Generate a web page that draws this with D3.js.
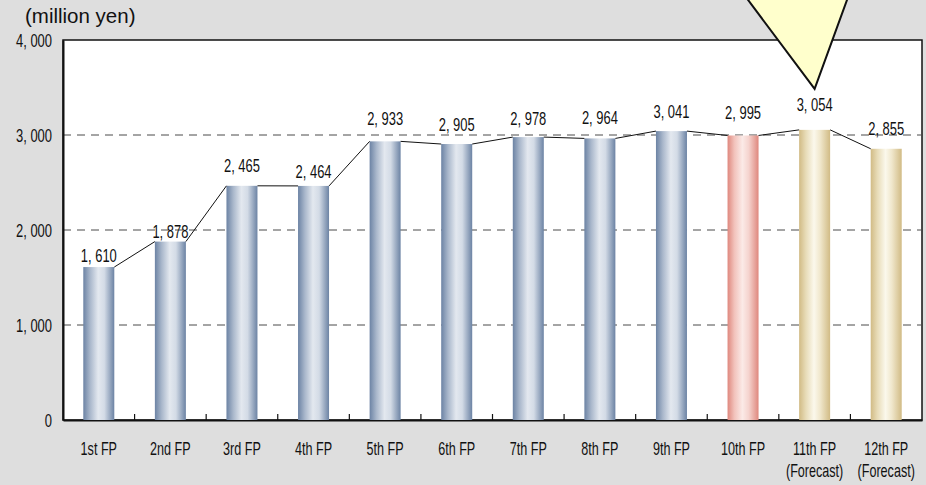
<!DOCTYPE html>
<html>
<head>
<meta charset="utf-8">
<script src="https://cdn.jsdelivr.net/npm/d3@7"></script>
<style>
  html, body { margin: 0; padding: 0; background: #dedede; }
  svg { display: block; }
  .num { font-family: "Liberation Sans", Arial, sans-serif; fill: #111; }
</style>
</head>
<body>
<div id="chart"></div>
<script>
// Operating revenue by fiscal period (million yen)
const categories = ["1st FP","2nd FP","3rd FP","4th FP","5th FP","6th FP","7th FP","8th FP","9th FP","10th FP","11th FP","12th FP"];
const subLabels  = ["","","","","","","","","","","(Forecast)","(Forecast)"];
const values     = [1610, 1878, 2465, 2464, 2933, 2905, 2978, 2964, 3041, 2995, 3054, 2855];
const kinds      = ["past","past","past","past","past","past","past","past","past","current","forecast","forecast"];
const yTicks     = [0, 1000, 2000, 3000, 4000];
const unitLabel  = "(million yen)";

// Layout
const W = 926, H = 485;
const plot = { left: 63, right: 922, top: 40, bottom: 420 };
const barW = 31;
const squeeze = 0.72;                 // horizontal condensing of the numeric font
const labelGap = [5, 4, 14, 8, 16, 13, 12, 14, 13, 16, 19, 14]; // label baseline offset above each bar

const svg = d3.select("#chart").append("svg").attr("width", W).attr("height", H);
const defs = svg.append("defs");

// Cylinder-like horizontal gradients for each bar type
const palettes = {
  past:     ["#6c83a4", "#a9b7cb", "#e3e8ef", "#d3dbe6", "#6c83a4"],
  current:  ["#df887e", "#f2c2bb", "#fbeae7", "#f5d4cf", "#df887e"],
  forecast: ["#d1bb85", "#e8dcb8", "#fbf8ec", "#f0e7cc", "#d1bb85"]
};
Object.entries(palettes).forEach(([k, cols]) => {
  const g = defs.append("linearGradient").attr("id", "grad-" + k)
    .attr("x1", "0%").attr("x2", "100%").attr("y1", "0%").attr("y2", "0%");
  const offs = [0, 0.22, 0.48, 0.68, 1];
  cols.forEach((c, i) => g.append("stop").attr("offset", offs[i]).attr("stop-color", c));
});

const x = d3.scaleBand().domain(categories).range([plot.left, plot.right]).paddingInner(0).paddingOuter(0);
const y = d3.scaleLinear().domain([0, 4000]).range([plot.bottom, plot.top]);
const fmt = d => d3.format(",")(d).replace(",", ", ");

// Condensed text helper: draws at (px, py) with a horizontal squeeze
function condText(sel, px, py, str, size, anchor) {
  return sel.append("text").attr("class", "num")
    .attr("font-size", size).attr("text-anchor", anchor || "middle")
    .attr("transform", `translate(${px},${py}) scale(${squeeze},1)`)
    .text(str);
}

// Plot area
svg.append("rect")
  .attr("x", plot.left).attr("y", plot.top)
  .attr("width", plot.right - plot.left).attr("height", plot.bottom - plot.top)
  .attr("fill", "#fff").attr("stroke", "#111").attr("stroke-width", 1.5);

// Dashed gridlines
svg.append("g").selectAll("line")
  .data(yTicks.filter(t => t > 0 && t < 4000))
  .join("line")
  .attr("x1", plot.left).attr("x2", plot.right)
  .attr("y1", d => y(d)).attr("y2", d => y(d))
  .attr("stroke", "#4a4a4a").attr("stroke-width", 1)
  .attr("stroke-dasharray", "8,6");

// Y axis
const yAxis = svg.append("g").attr("transform", `translate(${plot.left},0)`)
  .call(d3.axisLeft(y).tickValues(yTicks).tickSize(0).tickPadding(11).tickFormat(fmt));
yAxis.select(".domain").attr("stroke", "#111").attr("stroke-width", 2);
yAxis.selectAll(".tick text")
  .attr("class", "num").attr("font-size", 18)
  .attr("x", -11 / squeeze).attr("dy", "0.36em")
  .attr("transform", `scale(${squeeze},1)`);

// X axis with inward tick marks at category boundaries
const xAxis = svg.append("g").attr("transform", `translate(0,${plot.bottom})`)
  .call(d3.axisBottom(x).tickSize(0).tickFormat(() => ""));
xAxis.select(".domain").attr("stroke", "#111").attr("stroke-width", 2);
xAxis.selectAll(".tick").each(function(d, i) {
  const t = d3.select(this);
  condText(t, 0, 35, d, 17.5);
  if (subLabels[i]) condText(t, 0, 57, subLabels[i], 17.5);
});
svg.append("g").selectAll("line")
  .data(categories.slice(1))
  .join("line")
  .attr("x1", d => x(d)).attr("x2", d => x(d))
  .attr("y1", plot.bottom).attr("y2", plot.bottom - 6)
  .attr("stroke", "#111").attr("stroke-width", 1.2);

// Bars
const cx = d => x(d) + x.bandwidth() / 2;
svg.append("g").selectAll("rect")
  .data(categories)
  .join("rect")
  .attr("x", d => cx(d) - barW / 2)
  .attr("width", barW)
  .attr("y", (d, i) => y(values[i]))
  .attr("height", (d, i) => y(0) - y(values[i]))
  .attr("fill", (d, i) => `url(#grad-${kinds[i]})`);

// Connector line between adjacent bar tops
const segs = d3.range(values.length - 1).map(i => [
  [cx(categories[i]) + barW / 2, y(values[i])],
  [cx(categories[i + 1]) - barW / 2, y(values[i + 1])]
]);
svg.append("g").selectAll("path")
  .data(segs)
  .join("path")
  .attr("d", d => d3.line()(d))
  .attr("stroke", "#111").attr("stroke-width", 1).attr("fill", "none");

// Value labels
const lbl = svg.append("g");
categories.forEach((c, i) => {
  condText(lbl, cx(c), y(values[i]) - labelGap[i], fmt(values[i]), 18);
});

// Unit label
svg.append("text")
  .attr("x", 25).attr("y", 23)
  .attr("font-family", "Liberation Sans, Arial, sans-serif")
  .attr("font-size", 20.5).attr("fill", "#111")
  .text(unitLabel);

// Callout pointer toward the 11th FP forecast
const tipX = cx(categories[10]);
const tipY = y(values[10]) - 41;
svg.append("path")
  .attr("d", d3.line()([[tipX - 74, -10], [tipX, tipY], [tipX + 36, -10]]) + "Z")
  .attr("fill", "#ffffcc").attr("stroke", "#111").attr("stroke-width", 2);
</script>
</body>
</html>
